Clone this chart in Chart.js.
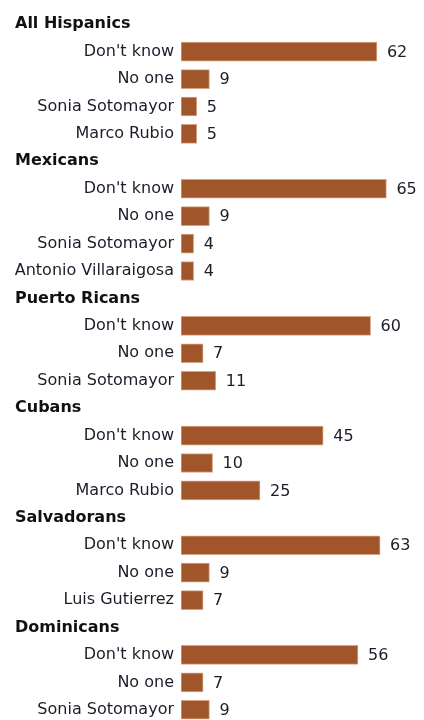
<!DOCTYPE html>
<html>
<head>
<meta charset="utf-8">
<script src="https://cdn.jsdelivr.net/npm/chart.js@4.4.1/dist/chart.umd.min.js"></script>
<style>
  html, body { margin: 0; padding: 0; background: #fff; overflow: hidden; }
</style>
</head>
<body>
<canvas id="myChart" width="424" height="730"></canvas>
<script>
const groups = ["All Hispanics", "Mexicans", "Puerto Ricans", "Cubans", "Salvadorans", "Dominicans"];
const answers = [
    ["Don't know", "No one", "Sonia Sotomayor", "Marco Rubio"],
    ["Don't know", "No one", "Sonia Sotomayor", "Antonio Villaraigosa"],
    ["Don't know", "No one", "Sonia Sotomayor"],
    ["Don't know", "No one", "Marco Rubio"],
    ["Don't know", "No one", "Luis Gutierrez"],
    ["Don't know", "No one", "Sonia Sotomayor"]
];
const shares = [
    [62, 9, 5, 5],
    [65, 9, 4, 4],
    [60, 7, 11],
    [45, 10, 25],
    [63, 9, 7],
    [56, 7, 9]
];

// one row per group heading (no bar) followed by its answers
const labels = [];
const values = [];
const headings = [];
groups.forEach((g, i) => {
    headings.push({ index: labels.length, text: g });
    labels.push("");
    values.push(null);
    answers[i].forEach((a, j) => {
        labels.push(a);
        values.push(shares[i][j]);
    });
});

const FONT = "'DejaVu Sans', Verdana, sans-serif";

const headingPlugin = {
    id: "headings",
    afterDraw(chart) {
        const ctx = chart.ctx;
        const y = chart.scales.y;
        ctx.save();
        ctx.font = "bold 16px " + FONT;
        ctx.fillStyle = "#111";
        ctx.textAlign = "left";
        ctx.textBaseline = "middle";
        headings.forEach(h => {
            ctx.fillText(h.text, 15, y.getPixelForValue(h.index));
        });
        ctx.restore();
    }
};

const valuePlugin = {
    id: "values",
    afterDatasetsDraw(chart) {
        const ctx = chart.ctx;
        const meta = chart.getDatasetMeta(0);
        ctx.save();
        ctx.font = "16px " + FONT;
        ctx.fillStyle = "#1c1c2a";
        ctx.textAlign = "left";
        ctx.textBaseline = "middle";
        meta.data.forEach((bar, i) => {
            const v = values[i];
            if (v === null) return;
            ctx.fillText(String(v), bar.x + 10, bar.y + 1);
        });
        ctx.restore();
    }
};

const ctx = document.getElementById("myChart").getContext("2d");

const data = {
    labels,
    datasets: [{
        data: values,
        backgroundColor: "#a0552a",
        borderColor: "#d7a483",
        borderWidth: 1,
        borderSkipped: false,
        barThickness: 19
    }]
};

const config = {
    type: "bar",
    data: data,
    options: {
        indexAxis: "y",
        responsive: false,
        animation: false,
        layout: {
            padding: { top: 10.5, bottom: 6.5, left: 0, right: 6 }
        },
        plugins: {
            legend: { display: false },
            tooltip: { enabled: false }
        },
        scales: {
            x: {
                display: false,
                min: 0,
                max: 75
            },
            y: {
                afterFit(scale) {
                    scale.width = 181;
                    // rows are evenly spaced; don't let the labels pad the area
                    scale.paddingTop = 0;
                    scale.paddingBottom = 0;
                },
                grid: { display: false, drawTicks: false },
                border: { display: false },
                ticks: {
                    padding: 7,
                    autoSkip: false,
                    color: "#1c1c2a",
                    font: { family: FONT, size: 16 }
                }
            }
        }
    },
    plugins: [headingPlugin, valuePlugin]
};

const myChart = new Chart(ctx, config);
</script>
</body>
</html>
